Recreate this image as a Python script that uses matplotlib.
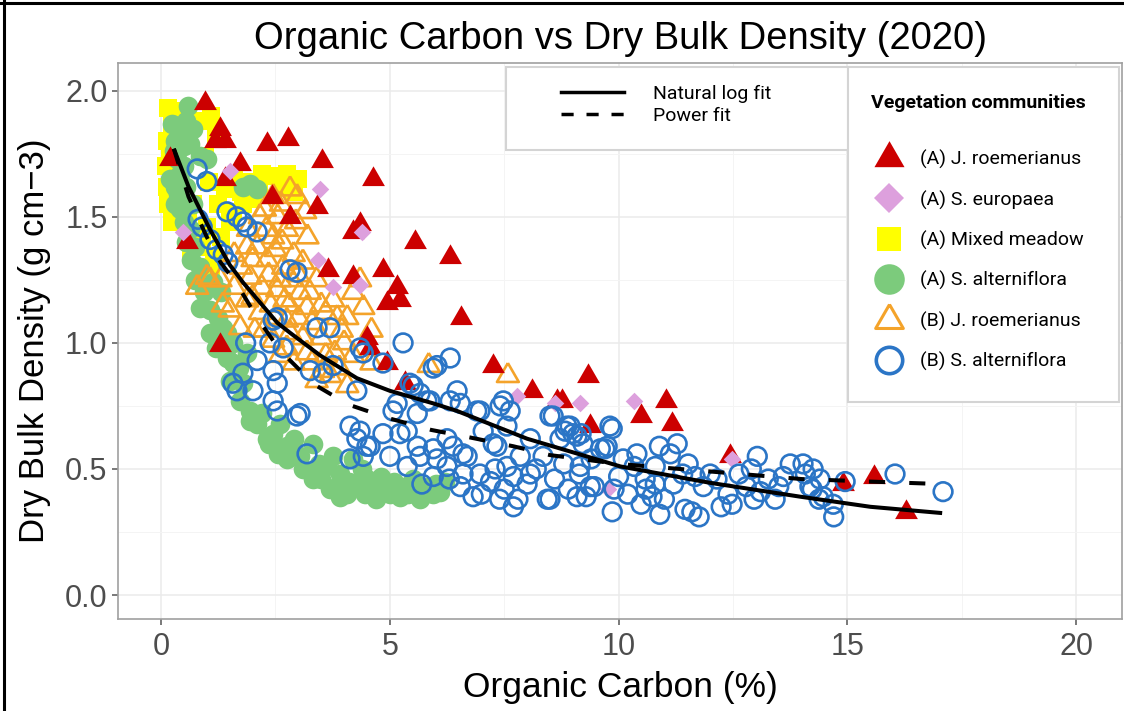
import matplotlib
matplotlib.use("Agg")
import matplotlib.pyplot as plt
import numpy as np
from matplotlib.lines import Line2D
from matplotlib.patches import Rectangle

plt.rcParams['font.family'] = ['Liberation Sans', 'DejaVu Sans']

# --- data (organic carbon %, dry bulk density g/cm3) ---
# (A) J. roemerianus - filled red triangles
jr_a = np.array([
    (0.96, 1.95), (1.29, 1.85), (1.18, 1.80), (1.40, 1.80), (2.32, 1.79), (2.78, 1.81),
    (3.52, 1.72), (0.20, 1.73), (1.73, 1.71), (1.40, 1.65), (2.43, 1.58), (3.41, 1.54),
    (2.82, 1.50), (0.57, 1.40), (3.65, 1.29), (4.63, 1.65), (4.35, 1.47), (4.20, 1.44),
    (5.55, 1.40), (6.32, 1.34), (4.85, 1.29), (5.16, 1.22), (5.22, 1.17), (4.94, 1.16),
    (6.55, 1.10), (4.20, 1.26), (1.29, 0.99), (7.25, 0.91), (8.10, 0.81), (8.66, 0.77),
    (8.77, 0.77), (9.33, 0.87), (9.38, 0.67), (4.57, 0.98), (4.94, 0.92), (5.33, 0.84),
    (4.50, 1.02), (10.49, 0.71), (11.04, 0.77), (11.17, 0.68), (12.44, 0.55), (15.58, 0.47),
    (16.28, 0.33), (14.90, 0.44),
])
# (A) S. europaea - pink diamonds
se_a = np.array([
    (1.51, 1.68), (3.48, 1.61), (0.48, 1.44), (3.43, 1.33), (4.39, 1.44), (4.35, 1.23),
    (3.76, 1.22), (7.78, 0.79), (9.16, 0.76), (10.34, 0.77), (9.77, 0.42), (12.48, 0.54),
    (8.62, 0.76),
])
# (A) Mixed meadow - yellow squares
mm_a = np.array([
    (0.15, 1.93), (0.30, 1.92), (0.25, 1.86), (0.12, 1.80), (0.20, 1.76), (0.85, 1.88),
    (1.10, 1.90), (1.20, 1.83), (0.96, 1.74), (1.05, 1.64), (1.40, 1.61), (1.75, 1.60),
    (1.95, 1.64), (2.20, 1.67), (2.45, 1.66), (2.15, 1.62), (3.00, 1.65), (2.90, 1.60),
    (1.57, 1.52), (1.00, 1.46), (0.80, 1.38), (0.92, 1.30), (1.15, 1.34), (0.48, 1.57),
    (0.60, 1.50), (1.30, 1.42), (1.50, 1.48), (1.80, 1.55), (0.35, 1.70), (0.70, 1.55),
    (0.10, 1.70), (0.12, 1.62), (0.15, 1.55), (0.25, 1.48), (1.60, 1.66), (2.60, 1.62),
    (2.75, 1.67), (0.90, 1.40), (1.10, 1.28), (1.25, 1.55), (2.00, 1.57), (0.65, 1.36),
])
# (A) S. alterniflora - filled green circles
sa_a = np.array([
    (0.60, 1.94), (0.24, 1.87), (0.45, 1.84), (0.63, 1.79), (0.41, 1.82), (0.35, 1.73),
    (0.41, 1.67), (0.37, 1.59), (0.45, 1.55), (0.20, 1.65), (0.41, 1.53), (0.63, 1.45),
    (0.85, 1.74), (1.00, 1.73), (0.85, 1.30), (1.14, 1.24), (1.07, 1.13), (1.25, 1.10),
    (1.36, 1.06), (1.57, 1.00), (1.88, 0.96), (1.79, 1.62), (2.10, 1.61), (1.95, 1.63),
    (1.44, 1.04), (1.57, 0.92), (1.79, 0.84), (1.95, 0.73), (2.10, 0.68), (2.45, 0.64),
    (2.75, 0.59), (3.04, 0.55), (3.32, 0.60), (3.63, 0.51), (3.91, 0.48), (4.07, 0.40),
    (4.50, 0.46), (4.94, 0.43), (5.22, 0.39), (5.66, 0.42), (5.95, 0.40), (4.20, 0.54),
    (3.76, 0.55), (4.30, 0.43), (4.60, 0.41), (4.80, 0.47), (5.10, 0.45), (5.40, 0.40),
    (5.50, 0.46), (5.80, 0.43), (6.10, 0.41), (6.20, 0.45), (3.90, 0.44), (3.45, 0.52),
    (0.55, 1.62), (0.70, 1.55), (0.50, 1.70), (0.75, 1.38), (0.95, 1.20), (1.30, 1.20),
    (2.20, 0.72), (2.60, 0.68), (2.90, 0.62), (1.70, 0.90), (2.35, 0.60),
    (0.30, 1.80), (0.28, 1.76), (0.50, 1.78), (0.55, 1.88), (0.70, 1.85), (0.30, 1.62),
    (0.30, 1.55), (0.50, 1.48), (0.55, 1.40), (0.65, 1.33), (0.75, 1.25), (0.85, 1.14),
    (1.07, 1.04), (1.20, 0.98), (1.44, 0.94), (1.50, 0.85), (1.73, 0.77), (1.95, 0.69),
    (2.32, 0.62), (2.75, 0.54), (3.32, 0.46), (3.91, 0.39), (3.50, 0.46), (3.70, 0.42),
    (4.10, 0.45), (4.45, 0.40), (4.70, 0.38), (5.00, 0.40), (5.30, 0.43), (5.65, 0.38),
    (6.00, 0.44), (4.40, 0.50), (2.55, 0.56), (3.10, 0.50),
])
# (B) J. roemerianus - open orange triangles
jr_b = np.array([
    (2.82, 1.61), (2.97, 1.58), (2.27, 1.53), (2.75, 1.45), (2.16, 1.50), (2.45, 1.42),
    (1.88, 1.38), (2.32, 1.33), (2.67, 1.30), (1.00, 1.26), (0.79, 1.22), (1.95, 1.26),
    (2.54, 1.21), (3.04, 1.20), (1.88, 1.17), (2.16, 1.12), (1.73, 1.06), (2.75, 1.09),
    (3.19, 1.14), (3.76, 1.17), (4.20, 1.20), (4.42, 1.14), (4.07, 1.10), (3.10, 1.02),
    (2.45, 1.01), (3.19, 0.96), (3.54, 0.89), (4.07, 0.83), (2.82, 1.04), (5.85, 0.91),
    (7.58, 0.87), (1.07, 1.25), (2.30, 1.45), (2.50, 1.37), (2.60, 1.25), (2.90, 1.35),
    (3.00, 1.27), (2.20, 1.22), (2.40, 1.15), (2.70, 1.17), (3.30, 1.08), (3.50, 1.02),
    (3.60, 1.12), (3.80, 0.96), (2.90, 0.92), (3.30, 0.92), (2.60, 0.95), (2.00, 1.33),
    (1.75, 1.30), (3.40, 1.25), (3.95, 1.05), (4.60, 1.05), (4.60, 0.92), (1.50, 1.13),
    (2.05, 1.05), (3.70, 0.87), (4.35, 1.25),
    (1.30, 1.25), (1.60, 1.22), (1.90, 1.45), (2.10, 1.38), (2.35, 1.27), (2.55, 1.50),
    (2.65, 1.40), (2.85, 1.25), (3.10, 1.32), (3.20, 1.42), (2.25, 1.05), (2.50, 1.10),
    (2.80, 1.15), (3.00, 1.10), (3.25, 1.20), (3.50, 1.15), (3.85, 1.10), (4.00, 1.00),
    (4.20, 0.95), (3.60, 0.95), (3.40, 0.85), (3.90, 0.90), (2.75, 0.98), (2.00, 1.18),
    (1.60, 1.35), (2.45, 1.58), (2.62, 1.55), (3.15, 1.52), (1.35, 1.15), (2.95, 1.48),
])
# (B) S. alterniflora - open blue circles
sa_b = np.array([
    (0.79, 1.69), (1.00, 1.64), (0.81, 1.49), (0.90, 1.46), (1.07, 1.41), (1.22, 1.37),
    (1.36, 1.35), (1.46, 1.32), (1.44, 1.52), (1.66, 1.50), (1.88, 1.46), (2.10, 1.44),
    (1.79, 1.48), (2.82, 1.29), (2.97, 1.28), (2.54, 1.10), (2.45, 1.09), (3.41, 1.06),
    (3.69, 1.06), (5.29, 1.00), (4.35, 0.98), (6.32, 0.94), (2.38, 1.00), (2.67, 0.98),
    (1.79, 0.88), (1.66, 0.81), (2.01, 0.81), (2.45, 0.89), (2.54, 0.84), (2.45, 0.77),
    (2.54, 0.73), (3.04, 0.72), (3.19, 0.56), (3.54, 0.88), (3.76, 0.91), (4.42, 0.96),
    (4.85, 0.92), (5.95, 0.90), (4.28, 0.81), (4.13, 0.67), (4.28, 0.62), (4.50, 0.59),
    (4.42, 0.55), (4.85, 0.64), (5.00, 0.55), (5.07, 0.73), (5.38, 0.65), (5.60, 0.72),
    (5.66, 0.80), (5.44, 0.84), (5.88, 0.77), (6.47, 0.81), (6.32, 0.77), (5.38, 0.51),
    (5.66, 0.55), (5.95, 0.58), (5.95, 0.47), (6.25, 0.51), (6.38, 0.59), (6.69, 0.55),
    (6.82, 0.39), (6.54, 0.43), (6.97, 0.48), (6.97, 0.73), (7.41, 0.75), (7.56, 0.67),
    (7.26, 0.60), (7.56, 0.51), (7.85, 0.55), (8.07, 0.48), (8.44, 0.38), (8.35, 0.55),
    (8.72, 0.62), (8.87, 0.67), (9.00, 0.64), (9.22, 0.60), (9.16, 0.51), (9.38, 0.43),
    (9.09, 0.39), (8.57, 0.71), (9.60, 0.58), (1.57, 0.84), (2.97, 0.71), (6.03, 0.91),
    (3.26, 0.89), (4.35, 0.65), (5.16, 0.76), (5.51, 0.83), (5.81, 0.77), (6.54, 0.76),
    (6.90, 0.73), (7.48, 0.77), (7.63, 0.73), (8.50, 0.71), (9.81, 0.67), (9.75, 0.59),
    (8.94, 0.67), (9.09, 0.63), (5.22, 0.64), (4.57, 0.59), (5.60, 0.59), (6.25, 0.62),
    (7.04, 0.65), (6.03, 0.54), (6.60, 0.56), (7.34, 0.59), (8.07, 0.62), (4.13, 0.54),
    (9.18, 0.64), (8.83, 0.65), (9.86, 0.66), (10.10, 0.54), (9.70, 0.58), (10.34, 0.51),
    (10.58, 0.46), (10.80, 0.51), (10.89, 0.59), (11.28, 0.60), (11.13, 0.56), (9.47, 0.43),
    (9.14, 0.48), (9.86, 0.33), (9.29, 0.39), (8.50, 0.38), (10.49, 0.36), (10.73, 0.39),
    (11.52, 0.52), (11.67, 0.47), (12.00, 0.48), (11.85, 0.43), (11.60, 0.33), (11.76, 0.31),
    (11.45, 0.34), (12.48, 0.36), (12.39, 0.40), (12.63, 0.48), (13.03, 0.55), (13.27, 0.46),
    (13.50, 0.43), (13.75, 0.52), (13.42, 0.38), (14.08, 0.48), (14.23, 0.42), (14.38, 0.38),
    (14.70, 0.31), (14.95, 0.45), (16.04, 0.48), (17.09, 0.41), (12.96, 0.38), (12.79, 0.43),
    (12.15, 0.46), (12.24, 0.35), (14.03, 0.52), (14.25, 0.50), (14.40, 0.46), (14.18, 0.43),
    (14.47, 0.39), (14.69, 0.36), (7.00, 0.40), (7.20, 0.45), (7.50, 0.42), (7.80, 0.38),
    (8.00, 0.44), (8.20, 0.50), (8.60, 0.46), (8.90, 0.42), (9.90, 0.42), (10.00, 0.47),
    (10.20, 0.40), (10.60, 0.42), (11.00, 0.38), (11.20, 0.44), (11.40, 0.48), (10.90, 0.32),
    (5.70, 0.44), (6.30, 0.46), (6.60, 0.48), (7.30, 0.50), (7.70, 0.47), (8.80, 0.52),
    (9.40, 0.54), (10.40, 0.56), (10.80, 0.44), (12.90, 0.50), (13.10, 0.41), (13.60, 0.47),
    (7.70, 0.35), (7.40, 0.38), (1.85, 1.00), (2.10, 0.93),
])

# fitted curves
fit_x_log = [0.28, 0.6, 1.07, 1.5, 1.79, 2.54, 2.82, 3.48, 4.28, 5.0, 5.95, 6.47,
             8.0, 10.04, 12.0, 13.97, 15.5, 17.07]
fit_y_log = [1.77, 1.62, 1.45, 1.31, 1.24, 1.08, 1.04, 0.95, 0.86, 0.81, 0.76, 0.73,
             0.62, 0.51, 0.445, 0.39, 0.35, 0.325]
fit_x_pow = [0.28, 0.6, 1.0, 1.3, 1.67, 2.1, 2.6, 3.35, 4.1, 5.0, 5.9, 6.75, 7.7,
             8.5, 10.0, 12.0, 14.0, 15.5, 17.07]
fit_y_pow = [1.77, 1.58, 1.42, 1.32, 1.23, 1.10, 0.97, 0.835, 0.755, 0.70, 0.655,
             0.625, 0.59, 0.555, 0.52, 0.49, 0.46, 0.45, 0.44]

W, H = 1124, 711


def fpx(x, y):
    # pixel position -> figure fraction
    return x / W, 1 - y / H


# equilateral triangle like ggplot's shapes 2 / 17
tri = [(0, 1), (-0.866, -0.5), (0.866, -0.5), (0, 1)]

fig = plt.figure(figsize=(W / 100, H / 100), dpi=100)
ax = fig.add_axes([118 / W, 1 - 619 / H, (1122 - 118) / W, (619 - 63) / H])

ax.set_xlim(-0.94, 21.0)
ax.set_ylim(-0.095, 2.11)
ax.set_xticks([0, 5, 10, 15, 20])
ax.set_xticks([2.5, 7.5, 12.5, 17.5], minor=True)
ax.set_yticks([0, 0.5, 1.0, 1.5, 2.0])
ax.set_yticks([0.25, 0.75, 1.25, 1.75], minor=True)
ax.set_yticklabels(['0.0', '0.5', '1.0', '1.5', '2.0'])
ax.grid(which='major', color='#EBEBEB', lw=1.1, zorder=0)
ax.grid(which='minor', color='#F4F4F4', lw=0.7, zorder=0)
ax.set_axisbelow(True)
for s in ax.spines.values():
    s.set_color('#A0A0A0')
    s.set_linewidth(1.2)
ax.tick_params(which='major', labelsize=22, labelcolor='#4D4D4D', color='#555555',
               length=4.5, width=1.1, pad=3)
ax.tick_params(axis='x', pad=5)
ax.tick_params(which='minor', length=0)

c_red, c_pink, c_yel, c_grn, c_org, c_blu = '#CC0000', '#DDA0DD', '#FFFF00', '#7CCB7C', '#F4A32A', '#2B75C6'

ax.scatter(mm_a[:, 0], mm_a[:, 1], marker='s', s=150, color=c_yel, lw=0, zorder=2)
ax.scatter(sa_a[:, 0], sa_a[:, 1], marker='o', s=200, color=c_grn, lw=0, zorder=3)
ax.scatter(jr_b[:, 0], jr_b[:, 1], marker=tri, s=330, facecolor='none', edgecolor=c_org, lw=1.9, zorder=4)
ax.scatter(jr_a[:, 0], jr_a[:, 1], marker=tri, s=360, color=c_red, lw=0, zorder=5)
ax.scatter(se_a[:, 0], se_a[:, 1], marker='D', s=80, color=c_pink, lw=0, zorder=6)
ax.scatter(sa_b[:, 0], sa_b[:, 1], marker='o', s=180, facecolor='none', edgecolor=c_blu, lw=1.9, zorder=7)

ax.plot(fit_x_log, fit_y_log, color='black', lw=2.9, zorder=9, solid_capstyle='butt')
ax.plot(fit_x_pow, fit_y_pow, color='black', lw=2.9, dashes=(4, 6), zorder=9)

ax.set_title('Organic Carbon vs Dry Bulk Density (2020)', fontsize=27.5, pad=10)
ax.set_xlabel('Organic Carbon (%)', fontsize=25.5, labelpad=6)
ax.set_ylabel('Dry Bulk Density (g cm\u22123)', fontsize=25, labelpad=10)

# legend frames
for (x0, y0, x1, y1) in [(506, 67, 848, 150), (848, 67, 1119, 402)]:
    fx, fy = fpx(x0, y1)
    fig.add_artist(Rectangle((fx, fy), (x1 - x0) / W, (y1 - y0) / H, transform=fig.transFigure,
                             facecolor='white', edgecolor='#D4D4D4', lw=1.5, zorder=3))

leg_font = {'family': 'Roboto', 'size': 14}
fs_px = 14 * 100 / 72

fit_handles = [Line2D([], [], color='black', lw=2.5),
               Line2D([], [], color='black', lw=2.5, dashes=(3.5, 3.7))]
fig.legend(fit_handles, ['Natural log fit', 'Power fit'], loc='upper left',
           bbox_to_anchor=fpx(561, 85), bbox_transform=fig.transFigure, frameon=False,
           borderpad=0, borderaxespad=0, handlelength=63 / fs_px, handletextpad=29 / fs_px,
           labelspacing=0.2, prop=leg_font)

veg_labels = ['(A) J. roemerianus', '(A) S. europaea', '(A) Mixed meadow',
              '(A) S. alterniflora', '(B) J. roemerianus', '(B) S. alterniflora']
veg_handles = [
    Line2D([], [], ls='none', marker=tri, ms=25, color=c_red, mew=0),
    Line2D([], [], ls='none', marker='D', ms=15, color=c_pink, mew=0),
    Line2D([], [], ls='none', marker='s', ms=17, color=c_yel, mew=0),
    Line2D([], [], ls='none', marker='o', ms=22, color=c_grn, mew=0),
    Line2D([], [], ls='none', marker=tri, ms=23, mfc='none', mec=c_org, mew=2.2),
    Line2D([], [], ls='none', marker='o', ms=19, mfc='none', mec=c_blu, mew=2.6),
]
fig.legend(veg_handles, veg_labels, loc='upper left',
           bbox_to_anchor=fpx(873.5, 150), bbox_transform=fig.transFigure, frameon=False,
           borderpad=0, borderaxespad=0, handlelength=1.6, handletextpad=0.8,
           labelspacing=1.09, prop=leg_font)
fx, fy = fpx(871, 103)
fig.text(fx, fy, 'Vegetation communities', family='Roboto', size=14, weight='bold',
         ha='left', va='center')

# black border of the original screenshot
fig.add_artist(Line2D([4 / W, 4 / W], [0, 1], color='black', lw=2.2, transform=fig.transFigure))
fig.add_artist(Line2D([0, 1], [1 - 3 / H, 1 - 3 / H], color='black', lw=2.2, transform=fig.transFigure))

fig.savefig('out.png', dpi=100)
